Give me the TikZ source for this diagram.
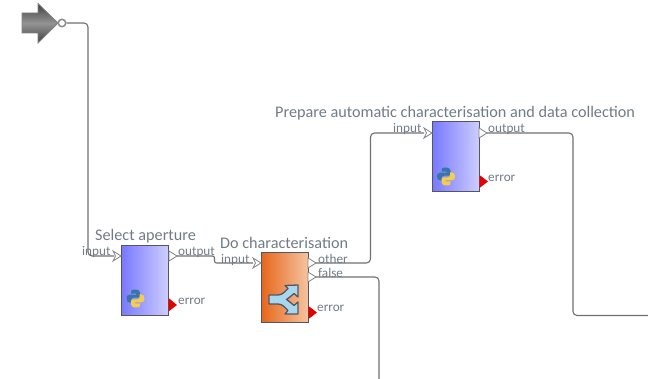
\documentclass[tikz,border=0pt]{standalone}
\usepackage{fontspec}
\setmainfont{Carlito}
\usetikzlibrary{calc}
\definecolor{txt}{HTML}{6F7C88}
\definecolor{wire}{HTML}{707070}
\definecolor{edge}{HTML}{555560}
\definecolor{pyL}{HTML}{7878FF}
\definecolor{pyR}{HTML}{CDCDFF}
\definecolor{swL}{HTML}{E6661A}
\definecolor{swR}{HTML}{F5C4A0}
\definecolor{pyblue}{HTML}{3A74A8}
\definecolor{pyyellow}{HTML}{F2CE4A}
\definecolor{forkfill}{HTML}{A8D8F0}
\tikzset{
  wirepath/.style={draw=wire,line width=1.1pt,rounded corners=4pt},
  pybox/.style={draw=edge,line width=1pt,minimum width=47pt,minimum height=70pt,inner sep=0pt,left color=pyL,right color=pyR},
  switchbox/.style={draw=edge,line width=1pt,minimum width=47pt,minimum height=70pt,inner sep=0pt,left color=swL,right color=swR},
  porttext/.style={text=txt,font=\fontsize{13.2}{14}\selectfont,inner sep=0pt},
  titletext/.style={text=txt,font=\fontsize{16.2}{17}\selectfont,inner sep=0pt},
  openport/.style={draw=wire!85,fill=white,line width=.8pt},
  errport/.style={fill=red!90!black,draw=none},
}
\newcommand{\pylogo}[2]{%
 \begin{scope}[shift={(#1,#2)}]
  \fill[pyblue] (-1.5,-9) .. controls (-4,-9) and (-4.5,-8) .. (-4.5,-6) -- (-4.5,-4.8) -- (.5,-4.8) -- (.5,-3.8) -- (-6,-3.8) .. controls (-8.5,-3.8) and (-9,-2) .. (-9,0) .. controls (-9,2.5) and (-8,4) .. (-6,4) -- (-4.2,4) -- (-4.2,1.5) .. controls (-4.2,-.2) and (-3,-.9) .. (-1.5,-.9) -- (2.8,-.9) .. controls (4,-.9) and (4.5,-1.8) .. (4.5,-2.8) -- (4.5,-6) .. controls (4.5,-8) and (2.5,-9) .. (-1.5,-9) -- cycle;
  \fill[pyyellow] (1.5,9) .. controls (4,9) and (4.5,8) .. (4.5,6) -- (4.5,4.8) -- (-.5,4.8) -- (-.5,3.8) -- (6,3.8) .. controls (8.5,3.8) and (9,2) .. (9,0) .. controls (9,-2.5) and (8,-4) .. (6,-4) -- (4.2,-4) -- (4.2,-1.5) .. controls (4.2,.2) and (3,.9) .. (1.5,.9) -- (-2.8,.9) .. controls (-4,.9) and (-4.5,1.8) .. (-4.5,2.8) -- (-4.5,6) .. controls (-4.5,8) and (-2.5,9) .. (1.5,9) -- cycle;
 \end{scope}}
\newcommand{\inport}[2]{\path[openport] (#1-8,#2-5) -- (#1,#2) -- (#1-8,#2+5) -- (#1-5.5,#2) -- cycle;}
\begin{document}
\begin{tikzpicture}[x=1pt,y=-1pt]
\useasboundingbox (0,0) rectangle (648,379);
% source arrow
\shade[top color=black!75,bottom color=black!75,middle color=black!42,draw=black!50,line width=.8pt]
  (22,13) -- (38,13) -- (38,3.5) -- (58,23) -- (38,43) -- (38,33) -- (22,33) -- cycle;
% nodes
\node[pybox] (sel) at (144.5,280.5) {};
\node[switchbox] (do) at (284.5,288) {};
\node[pybox] (prep) at (455.5,157) {};
\node[circle,draw=black!45,fill=white,line width=1.5pt,minimum size=7.5pt,inner sep=0pt] (src) at (62,23) {};
\coordinate (selin) at (114,256);
\coordinate (selout) at (177,256);
\coordinate (doin) at (253,263);
\coordinate (doother) at (316,263);
\coordinate (dofalse) at (316,277);
\coordinate (prepin) at (424,133);
\coordinate (prepout) at (487,133);
\coordinate (offb) at (379,379);
\coordinate (offr) at (648,315.5);
% wires
\draw[wirepath] (src.east) -| (88,256) -- (selin);
\draw[wirepath,rounded corners=2pt] (selout) -- (214.5,256) -- (214.5,263) -- (doin);
\draw[wirepath] (doother) -- (370.5,263) -- (370.5,133) -- (prepin);
\draw[wirepath] (dofalse) -- (379,277) -- (offb);
\draw[wirepath] (prepout) -- (573,133) -- (573,315.5) -- (offr);
% ports
\inport{121}{256}
\path[openport] (169,251) -- (177,256) -- (169,261) -- cycle;
\inport{261}{263}
\path[openport] (308,258) -- (316,263) -- (308,268) -- cycle;
\path[openport] (308,272) -- (316,277) -- (308,282) -- cycle;
\inport{432}{133}
\path[openport] (479,128) -- (487,133) -- (479,138) -- cycle;
\path[errport] (168.5,298) -- (177,305) -- (168.5,311.5) -- cycle;
\path[errport] (308.5,306) -- (317,312.5) -- (308.5,319) -- cycle;
\path[errport] (479.5,175) -- (488,181.5) -- (479.5,188) -- cycle;
% icons
\pylogo{135.5}{298.5}
\pylogo{446}{176.5}
\draw[edge,fill=forkfill,line width=1.3pt,line join=round]
  (269,295) -- (278,295) .. controls (283,295) and (285,291) .. (288,288.5) -- (285,285.5) -- (298,285) -- (298,297) -- (294,293.5)
  .. controls (291,296) and (289,298) .. (286.5,299.5) .. controls (289,301) and (291,303) .. (294,305.5)
  -- (298,302) -- (298,314) -- (285,314) -- (288,310.5) .. controls (285,308) and (283,304) .. (278,304) -- (269,304) -- cycle;
% labels
\node[titletext,anchor=west] (selt) at (95,236) {Select aperture};
\node[titletext,anchor=west] (dot) at (220,243) {Do characterisation};
\node[titletext,anchor=west] (prept) at (275,113) {Prepare automatic characterisation and data collection};
\node[porttext,anchor=west] at (82,252) {input};
\node[porttext,anchor=west] at (178,252) {output};
\node[porttext,anchor=west] at (178,301) {error};
\node[porttext,anchor=west] at (221,260) {input};
\node[porttext,anchor=west] at (318,259) {other};
\node[porttext,anchor=west] at (318,273) {false};
\node[porttext,anchor=west] at (317,308) {error};
\node[porttext,anchor=west] at (393,129) {input};
\node[porttext,anchor=west] at (488,129) {output};
\node[porttext,anchor=west] at (488,178) {error};
\end{tikzpicture}
\end{document}
